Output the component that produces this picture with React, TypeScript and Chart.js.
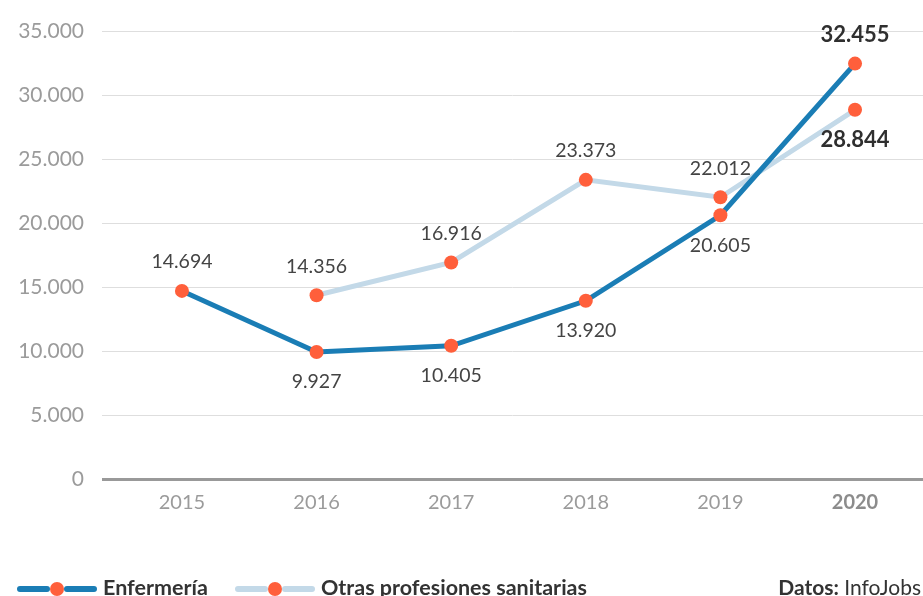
import React, { useEffect, useRef } from "react";
import { Chart, registerables } from "chart.js";
Chart.register(...registerables);

const years = ["2015", "2016", "2017", "2018", "2019", "2020"];
const enfermeria = [14694, 9927, 10405, 13920, 20605, 32455];
const otras = [null, 14356, 16916, 23373, 22012, 28844];
const enfLabelPos = ["above", "below", "below", "below", "below", "above"];
const otrasLabelPos = [null, "above", "above", "above", "above", "below"];
const seriesNames = ["Enfermería", "Otras profesiones sanitarias"];
const source = ["Datos:", " InfoJobs"];
const yMax = 35000;
const yStep = 5000;

const FONT = "Lato, 'Open Sans', sans-serif";
const BLUE = "#1a7db5";
const LIGHT = "#c3d9e8";
const DOT = "#ff5f3b";

const fmt = (n: number) => String(n).replace(/\B(?=(\d{3})+(?!\d))/g, ".");

export default function App() {
  const ref = useRef<HTMLCanvasElement>(null);
  useEffect(() => {
    if (!ref.current) return;
    const labelPlugin = {
      id: "labels",
      afterDatasetsDraw(chart: any) {
        const ctx = chart.ctx;
        const positions = [enfLabelPos, otrasLabelPos];
        const values = [enfermeria, otras];
        ctx.save();
        ctx.textAlign = "center";
        ctx.textBaseline = "middle";
        chart.data.datasets.forEach((ds: any, di: number) => {
          const meta = chart.getDatasetMeta(di);
          meta.data.forEach((pt: any, i: number) => {
            const v = values[di][i];
            if (v == null) return;
            const pos = positions[di][i];
            const bold = i === years.length - 1;
            ctx.font = bold ? "bold 22px " + FONT : "19.5px " + FONT;
            ctx.fillStyle = bold ? "#2f2f2f" : "#444";
            const dy = pos === "above" ? -29 : 30;
            ctx.fillText(fmt(v as number), pt.x, pt.y + dy);
          });
        });
        ctx.restore();
      },
      afterDraw(chart: any) {
        const ctx = chart.ctx;
        ctx.save();
        const ly = 589;
        const drawItem = (x0: number, color: string, text: string) => {
          ctx.strokeStyle = color;
          ctx.lineWidth = 6;
          ctx.lineCap = "round";
          ctx.beginPath();
          ctx.moveTo(x0 + 3, ly);
          ctx.lineTo(x0 + 30, ly);
          ctx.moveTo(x0 + 50, ly);
          ctx.lineTo(x0 + 77, ly);
          ctx.stroke();
          ctx.fillStyle = DOT;
          ctx.beginPath();
          ctx.arc(x0 + 40, ly, 7, 0, Math.PI * 2);
          ctx.fill();
          ctx.font = "bold 21.5px " + FONT;
          ctx.fillStyle = "#333";
          ctx.textAlign = "left";
          ctx.textBaseline = "alphabetic";
          ctx.fillText(text, x0 + 86, 595);
        };
        drawItem(17, BLUE, seriesNames[0]);
        drawItem(235, LIGHT, seriesNames[1]);
        ctx.font = "21px " + FONT;
        const w2 = ctx.measureText(source[1]).width;
        ctx.textAlign = "right";
        ctx.fillStyle = "#333";
        ctx.fillText(source[1], 921, 595);
        ctx.font = "bold 21px " + FONT;
        ctx.fillText(source[0], 921 - w2, 595);
        ctx.restore();
      },
    };
    const chart = new Chart(ref.current, {
      type: "line",
      data: {
        datasets: [
          {
            label: seriesNames[0],
            data: enfermeria.map((v, i) => ({ x: i, y: v })),
            borderColor: BLUE,
            borderWidth: 5,
            pointRadius: 7,
            pointBackgroundColor: DOT,
            pointBorderWidth: 0,
            tension: 0,
          },
          {
            label: seriesNames[1],
            data: otras.map((v, i) => ({ x: i, y: v })) as any,
            borderColor: LIGHT,
            borderWidth: 5,
            pointRadius: 7,
            pointBackgroundColor: DOT,
            pointBorderWidth: 0,
            tension: 0,
          },
        ],
      },
      options: {
        responsive: false,
        animation: false,
        events: [],
        layout: { autoPadding: false, padding: { top: 31, left: 0, right: 0, bottom: 0 } },
        plugins: { legend: { display: false }, tooltip: { enabled: false } },
        scales: {
          x: {
            type: "linear",
            min: -0.594,
            max: 5.505,
            afterFit: (s: any) => {
              s.height = 117;
              s.paddingLeft = 0;
              s.paddingRight = 0;
            },
            afterBuildTicks: (s: any) => {
              s.ticks = years.map((_, i) => ({ value: i }));
            },
            grid: { display: false, drawTicks: false },
            border: { display: false },
            ticks: {
              padding: 12,
              callback: (v: any) => years[v as number] ?? "",
              color: (c: any) => (c.tick && c.tick.value === 5 ? "#8c8c8c" : "#9b9b9b"),
              font: (c: any) => ({
                family: FONT,
                size: 20,
                weight: c.tick && c.tick.value === 5 ? "bold" : "normal",
              }),
            },
          },
          y: {
            min: 0,
            max: yMax,
            afterFit: (s: any) => {
              s.width = 102;
            },
            grid: {
              drawTicks: false,
              color: (c: any) => (c.tick && c.tick.value === 0 ? "#999" : "#dedede"),
              lineWidth: (c: any) => (c.tick && c.tick.value === 0 ? 3 : 1),
            },
            border: { display: false },
            ticks: {
              stepSize: yStep,
              padding: 18,
              color: "#9b9b9b",
              font: { family: FONT, size: 21 },
              callback: (v: any) => fmt(v as number),
            },
          },
        },
      },
      plugins: [labelPlugin],
    });
    return () => chart.destroy();
  }, []);
  return (
    <div style={{ position: "absolute", left: 0, top: 0, width: 923, height: 596, background: "#fff" }}>
      <canvas ref={ref} width={923} height={596} />
    </div>
  );
}
